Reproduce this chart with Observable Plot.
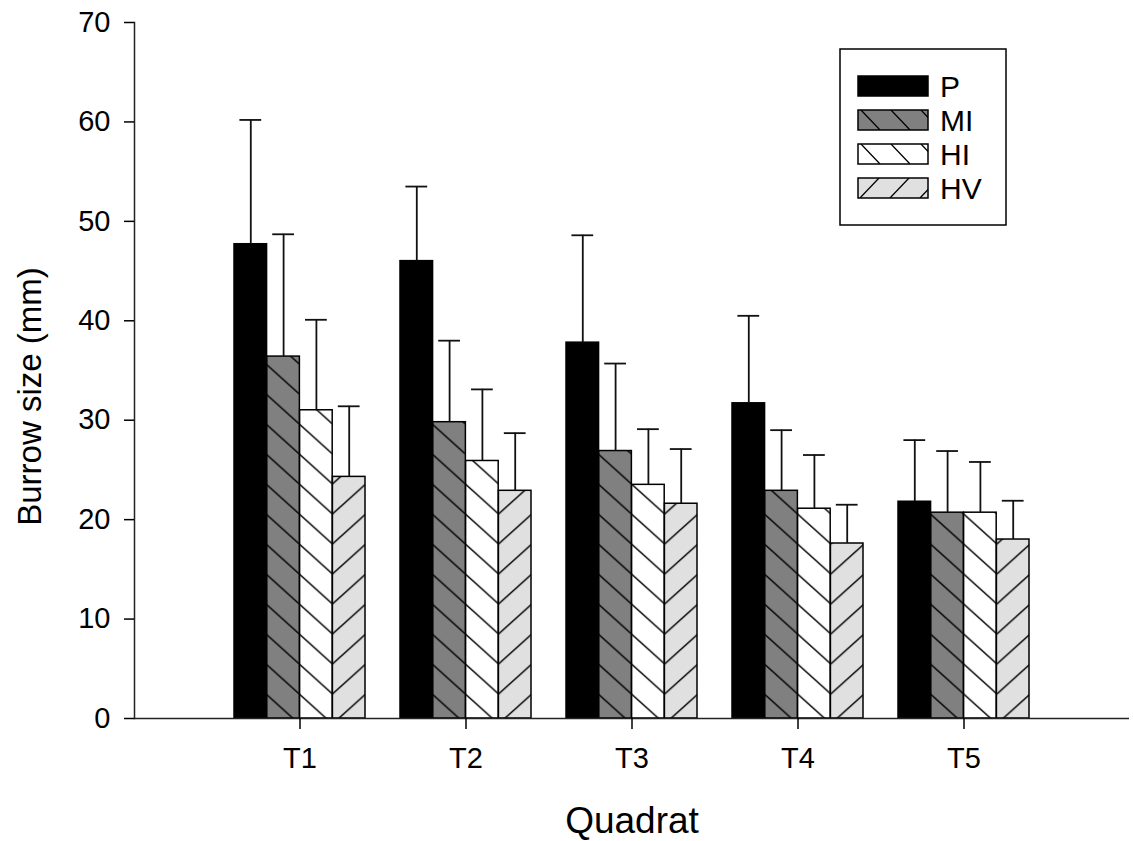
<!DOCTYPE html>
<html><head><meta charset="utf-8">
<script src="https://cdn.jsdelivr.net/npm/d3@7"></script>
<script src="https://cdn.jsdelivr.net/npm/@observablehq/plot@0.6"></script>
<style>
body{margin:0;background:#fff;}
#wrap{position:relative;width:1134px;height:841px;}
svg{font-family:"Liberation Sans",Arial,sans-serif;}
#legend{position:absolute;left:0;top:0;}
</style>
</head><body><div id="wrap"></div>
<script>
// ---- data ----
const quadrats = ["T1", "T2", "T3", "T4", "T5"];
const series = ["P", "MI", "HI", "HV"];
const meanP  = [47.7, 46.0, 37.8, 31.7, 21.8];
const sdP    = [12.5, 7.5, 10.8, 8.8, 6.2];
const meanMI = [36.4, 29.8, 26.9, 22.9, 20.7];
const sdMI   = [12.3, 8.2, 8.8, 6.1, 6.2];
const meanHI = [31.0, 25.9, 23.5, 21.1, 20.7];
const sdHI   = [9.1, 7.2, 5.6, 5.4, 5.1];
const meanHV = [24.3, 22.9, 21.6, 17.6, 18.0];
const sdHV   = [7.1, 5.8, 5.5, 3.9, 3.9];
const yTicks = [0, 10, 20, 30, 40, 50, 60, 70];

const means = {P: meanP, MI: meanMI, HI: meanHI, HV: meanHV};
const sds = {P: sdP, MI: sdMI, HI: sdHI, HV: sdHV};
const rows = quadrats.flatMap((q, i) => series.map(s => ({quadrat: q, series: s, mean: means[s][i], sd: sds[s][i]})));

// ---- layout ----
const W = 1134, H = 841, mL = 134, mR = 5, mT = 22, mB = 123;
const padInner = 0.21, padOuter = 0.6;
const band = d3.scaleBand(quadrats, [mL, W - mR]).paddingInner(padInner).paddingOuter(padOuter);
const bw = band.bandwidth(), step = band.step(), sub = bw / 4;
const capW = 22;

const fills = {P: "black", MI: "url(#hatchMI)", HI: "url(#hatchHI)", HV: "url(#hatchHV)"};

const marks = [];
series.forEach((s, j) => {
  const data = rows.filter(d => d.series === s);
  marks.push(Plot.barY(data, {x: "quadrat", y: "mean", fill: fills[s], stroke: "black", strokeWidth: 1.5,
    insetLeft: j * sub, insetRight: (3 - j) * sub}));
});
series.forEach((s, j) => {
  const data = rows.filter(d => d.series === s);
  marks.push(Plot.ruleX(data, {x: "quadrat", y1: "mean", y2: d => d.mean + d.sd, dx: (j - 1.5) * sub, stroke: "#111", strokeWidth: 1.8}));
  marks.push(Plot.tickY(data, {x: "quadrat", y: d => d.mean + d.sd, dx: (j - 1.5) * sub,
    insetLeft: (bw - capW) / 2, insetRight: (bw - capW) / 2, stroke: "#111", strokeWidth: 1.8}));
});

const plot = Plot.plot({
  width: W, height: H,
  marginLeft: mL, marginRight: mR, marginTop: mT, marginBottom: mB,
  style: {fontSize: "29px", fontFamily: '"Liberation Sans", Arial, sans-serif', color: "black", background: "white"},
  x: {type: "band", domain: quadrats, paddingInner: padInner, paddingOuter: padOuter, align: 0.5, label: null},
  y: {domain: [0, 70], label: null},
  marks: [
    ...marks,
    Plot.ruleY([0], {stroke: "#222", strokeWidth: 1.5}),
    Plot.frame({anchor: "left", stroke: "#222", strokeWidth: 1.5}),
    Plot.axisX({tickSize: 11, tickPadding: 18, strokeWidth: 1.5, label: null, fontSize: 29}),
    Plot.axisY({ticks: yTicks, tickSize: 10, tickPadding: 14, strokeWidth: 1.5, label: null, fontSize: 29, tickFormat: d => String(d)}),
    Plot.text(["Burrow size (mm)"], {text: d => d, frameAnchor: "left", textAnchor: "middle", rotate: -90, dx: -104, dy: 26, fontSize: 33}),
    Plot.text(["Quadrat"], {text: d => d, frameAnchor: "bottom", textAnchor: "middle", dy: 114, fontSize: 37})
  ]
});

// ---- hatch patterns (aligned so hatch lines form chevrons at bar boundaries) ----
const HS = 30;                       // vertical spacing of hatch lines
const k = Math.round(0.894 * step / 15);
const slope = 15 * k / step;
const TW = HS / slope;               // tile width
const y0 = mT + (H - mT - mB);       // baseline pixel
const b0 = band(quadrats[0]) + bw / 2;
const yv = y0 - 24;
const mod = (a, m) => ((a % m) + m) % m;
const psi = mod(yv - slope * b0, HS);
const phi = mod(yv + slope * b0, HS);
const NS = "http://www.w3.org/2000/svg";
function mkPattern(defs, id, bg, d, xoff, yoff, tw, hs, sw) {
  const p = document.createElementNS(NS, "pattern");
  p.setAttribute("id", id);
  p.setAttribute("patternUnits", "userSpaceOnUse");
  p.setAttribute("x", xoff); p.setAttribute("y", yoff);
  p.setAttribute("width", tw); p.setAttribute("height", hs);
  const r = document.createElementNS(NS, "rect");
  r.setAttribute("width", tw); r.setAttribute("height", hs); r.setAttribute("fill", bg);
  p.appendChild(r);
  const path = document.createElementNS(NS, "path");
  path.setAttribute("d", d);
  path.setAttribute("stroke", "black"); path.setAttribute("stroke-width", sw); path.setAttribute("fill", "none");
  p.appendChild(path);
  defs.appendChild(p);
}
const back = `M0,0L${TW},${HS}M0,${-HS}L${TW},0M0,${HS}L${TW},${2*HS}`;
const fwd = `M0,${HS}L${TW},0M0,${2*HS}L${TW},${HS}M0,0L${TW},${-HS}`;
const defs = document.createElementNS(NS, "defs");
mkPattern(defs, "hatchMI", "#808080", back, 0, psi, TW, HS, 1.4);
mkPattern(defs, "hatchHI", "#ffffff", back, 0, psi, TW, HS, 1.4);
mkPattern(defs, "hatchHV", "#e0e0e0", fwd, 0, phi, TW, HS, 1.4);
// legend patterns (one tile row per swatch)
mkPattern(defs, "legMI", "#808080", "M3,0L22,20M33,0L52,20", 0, 0, 30, 20, 1.3);
mkPattern(defs, "legHI", "#ffffff", "M3,0L22,20M33,0L52,20", 0, 0, 30, 20, 1.3);
mkPattern(defs, "legHV", "#e0e0e0", "M2,20L21,0M32,20L51,0", 0, 0, 30, 20, 1.3);
plot.insertBefore(defs, plot.firstChild);

const wrap = document.getElementById("wrap");
wrap.appendChild(plot);

// ---- legend ----
const lg = d3.select(wrap).append("svg").attr("id", "legend").attr("width", W).attr("height", H);
const legendFills = {P: "black", MI: "url(#legMI)", HI: "url(#legHI)", HV: "url(#legHV)"};
lg.append("rect").attr("x", 840).attr("y", 49).attr("width", 166).attr("height", 176)
  .attr("fill", "white").attr("stroke", "black").attr("stroke-width", 1.5);
const items = lg.selectAll("g.item").data(series).join("g").attr("class", "item")
  .attr("transform", (d, i) => `translate(858,${76 + i * 34})`);
items.append("rect").attr("width", 70).attr("height", 20)
  .attr("fill", d => legendFills[d]).attr("stroke", "black").attr("stroke-width", 1.5);
items.append("text").attr("x", 82).attr("y", 20.5).attr("font-size", 30).attr("fill", "black").text(d => d);
</script>
</body></html>
